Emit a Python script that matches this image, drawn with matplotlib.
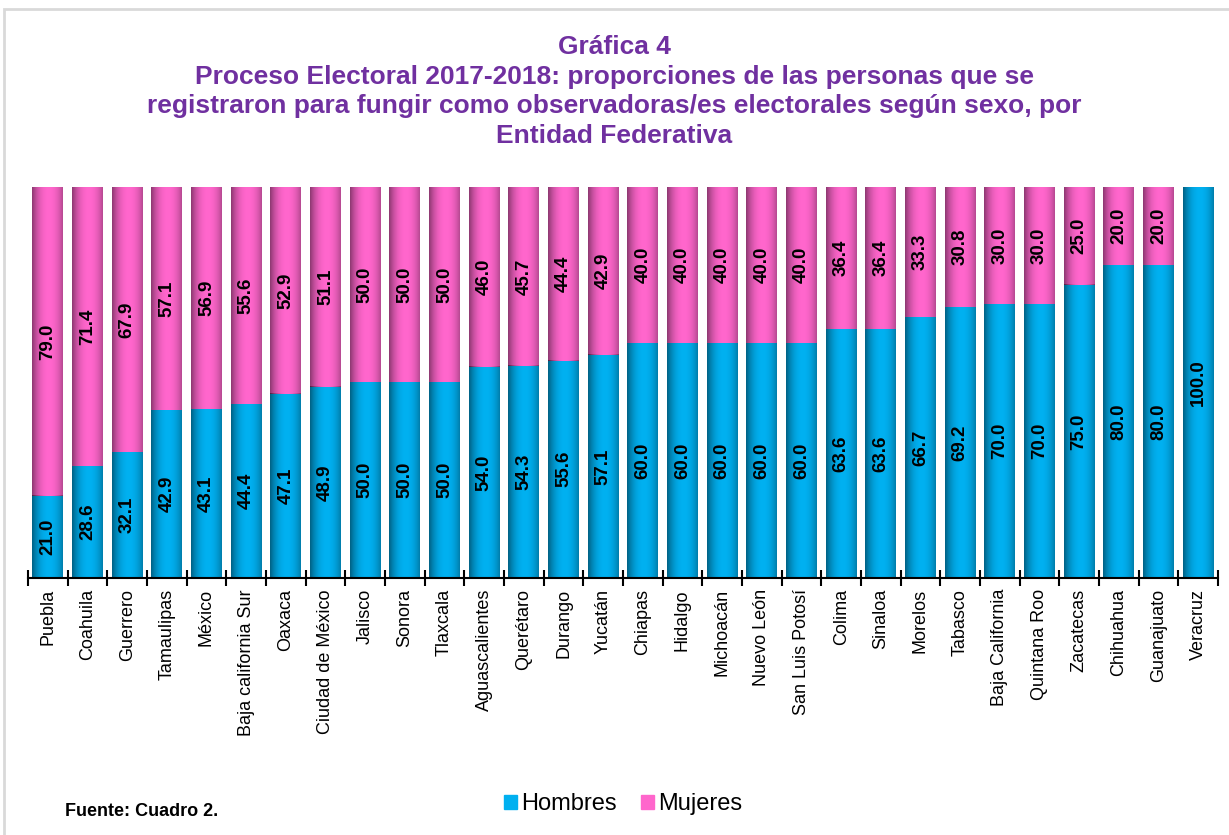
import numpy as np
import matplotlib
matplotlib.use("Agg")
import matplotlib.pyplot as plt
from matplotlib.patches import Rectangle

plt.rcParams['font.family'] = ['Liberation Sans', 'DejaVu Sans']

# Data
ESTADOS = ["Puebla", "Coahuila", "Guerrero", "Tamaulipas", "México",
           "Baja california Sur", "Oaxaca", "Ciudad de México", "Jalisco",
           "Sonora", "Tlaxcala", "Aguascalientes", "Querétaro", "Durango",
           "Yucatán", "Chiapas", "Hidalgo", "Michoacán", "Nuevo León",
           "San Luis Potosí", "Colima", "Sinaloa", "Morelos", "Tabasco",
           "Baja California", "Quintana Roo", "Zacatecas", "Chihuahua",
           "Guanajuato", "Veracruz"]
HOMBRES = [21.0, 28.6, 32.1, 42.9, 43.1, 44.4, 47.1, 48.9, 50.0, 50.0,
           50.0, 54.0, 54.3, 55.6, 57.1, 60.0, 60.0, 60.0, 60.0, 60.0,
           63.6, 63.6, 66.7, 69.2, 70.0, 70.0, 75.0, 80.0, 80.0, 100.0]
MUJERES = [79.0, 71.4, 67.9, 57.1, 56.9, 55.6, 52.9, 51.1, 50.0, 50.0,
           50.0, 46.0, 45.7, 44.4, 42.9, 40.0, 40.0, 40.0, 40.0, 40.0,
           36.4, 36.4, 33.3, 30.8, 30.0, 30.0, 25.0, 20.0, 20.0, 0.0]

BLUE = '#00B0F0'
PINK = '#FF66CC'
PURPLE = '#7030A0'

W, H = 1229, 835
fig = plt.figure(figsize=(W / 100, H / 100), dpi=100)

# outer frame (gray, only top/left visible)
fig.add_artist(Rectangle((4 / W, -0.02), 1.1, 1 - 9 / H + 0.02,
                         transform=fig.transFigure, facecolor='none',
                         edgecolor='#d9d9d9', linewidth=2))

ax = fig.add_axes([28 / W, 1 - 578 / H, (1218 - 28) / W, (578 - 187) / H])

x = np.arange(len(ESTADOS))
bars_h = ax.bar(x, HOMBRES, width=0.78, color=BLUE, zorder=2)
bars_m = ax.bar(x, MUJERES, width=0.78, bottom=HOMBRES, color=PINK, zorder=2)

# cylinder-like shading
t = np.linspace(0, 1, 64)
shade = np.zeros((1, 64, 4))
shade[0, :, 3] = 0.45 * (np.abs(t - 0.55) / 0.55) ** 2.2
for p in list(bars_h) + list(bars_m):
    if p.get_height() <= 0:
        continue
    ax.imshow(shade, extent=(p.get_x(), p.get_x() + p.get_width(),
                             p.get_y(), p.get_y() + p.get_height()),
              aspect='auto', zorder=3, interpolation='bilinear')

# value labels
for i in range(len(ESTADOS)):
    h, m = HOMBRES[i], MUJERES[i]
    if h > 0:
        ax.text(x[i], h / 2, f"{h:.1f}", rotation=90, ha='center', va='center',
                fontsize=13.5, fontweight='bold', color='black', zorder=4)
    if m > 0:
        ax.text(x[i], h + m / 2, f"{m:.1f}", rotation=90, ha='center', va='center',
                fontsize=13.5, fontweight='bold', color='black', zorder=4)

ax.set_xlim(-0.5, len(ESTADOS) - 0.5)
ax.set_ylim(0, 100)
for s in ['top', 'right', 'left']:
    ax.spines[s].set_visible(False)
ax.spines['bottom'].set_linewidth(1.5)
ax.set_yticks([])
ax.set_xticks(x)
ax.set_xticklabels(ESTADOS, rotation=90, fontsize=13)
ax.tick_params(axis='x', which='major', length=0, pad=8)
ax.set_xticks(np.arange(-0.5, len(ESTADOS)), minor=True)
ax.tick_params(axis='x', which='minor', length=12, width=1.5, direction='inout')

fig.text(0.5, 1 - 35 / H,
         "Gráfica 4\nProceso Electoral 2017-2018: proporciones de las personas que se\n"
         "registraron para fungir como observadoras/es electorales según sexo, por\n"
         "Entidad Federativa",
         ha='center', va='top', fontsize=19, fontweight='bold', color=PURPLE,
         linespacing=1.29)

fig.text(65 / W, 1 - 812 / H, "Fuente: Cuadro 2.", ha='left', va='center',
         fontsize=13, fontweight='bold')

fig.legend([Rectangle((0, 0), 1, 1, color=BLUE), Rectangle((0, 0), 1, 1, color=PINK)],
           ["Hombres", "Mujeres"], loc='center', bbox_to_anchor=(623 / W, 1 - 804 / H),
           ncol=2, frameon=False, fontsize=17, handlelength=0.55, handleheight=0.55,
           handletextpad=0.2, columnspacing=1.0)

fig.savefig('out.png', dpi=100)
